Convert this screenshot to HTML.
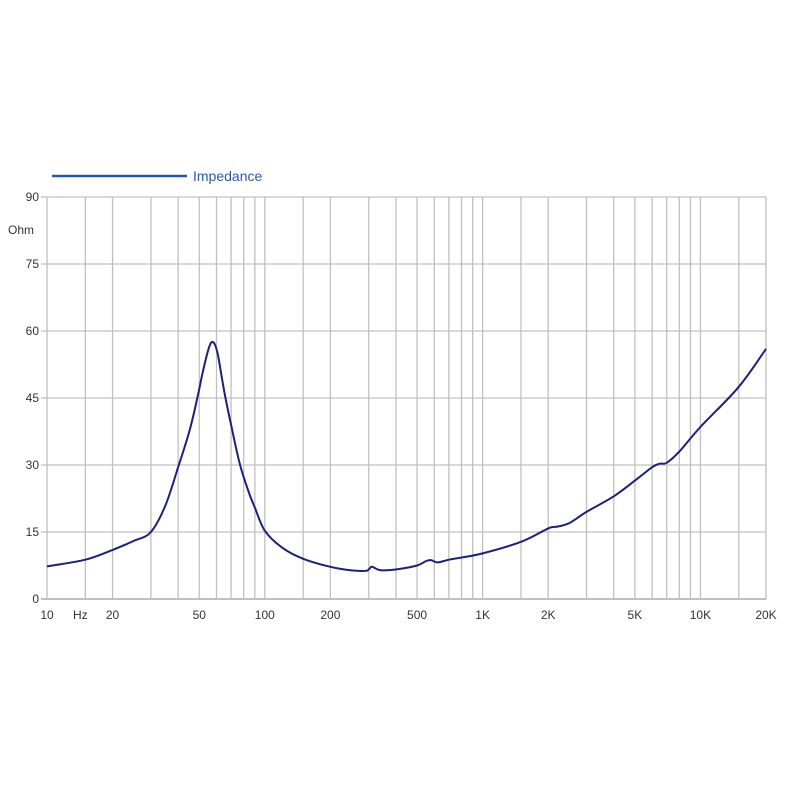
<!DOCTYPE html>
<html><head><meta charset="utf-8"><style>
body{margin:0;background:#fff;font-family:"Liberation Sans",sans-serif}
svg text{font-family:"Liberation Sans",sans-serif}
</style></head><body>
<svg width="800" height="800" id="c">
<g id="grid"></g>
<g id="ticks"></g>
<line x1="52" y1="176" x2="187" y2="176" stroke="#2b55a0" stroke-width="2.5"/>
<text x="193" y="181" font-size="14" fill="#2b5aa8">Impedance</text>
<text x="8" y="234" font-size="12" fill="#333">Ohm</text>
<text x="73" y="619" font-size="12" fill="#333">Hz</text>
<path id="curve" fill="none" stroke="#1c217a" stroke-width="2" stroke-linejoin="round"/>
</svg>
<script>
const freqs=[10,15,20,25,30,35,40,45,49,52,55,57,59,61,63,66,70,77,85,90,100,120,150,200,250,290,300,310,330,350,400,500,550,580,620,700,800,1000,1500,2000,2200,2500,3000,4000,5000,6000,6500,7000,8000,10000,15000,20000];
const ohms=[7.3,8.8,11,13,15,21,29.5,37.5,45,51,55.8,57.5,57,54.5,50.5,45,39,30,23.5,20.5,15.3,11.5,9,7.2,6.4,6.3,6.6,7.2,6.6,6.4,6.6,7.5,8.5,8.7,8.2,8.8,9.3,10.2,12.8,15.8,16.2,17,19.5,23,26.5,29.5,30.3,30.5,33,38.5,47.5,56];
const gridFreqs=[10,15,20,30,40,50,60,70,80,90,100,150,200,300,400,500,600,700,800,900,1000,1500,2000,3000,4000,5000,6000,7000,8000,9000,10000,15000,20000];
const xTicks=[10,20,50,100,200,500,1000,2000,5000,10000,20000];
const xTickLabels=["10","20","50","100","200","500","1K","2K","5K","10K","20K"];
const yTicks=[0,15,30,45,60,75,90];
const X0=47,X1=766,Y0=599,Y1=197;
const x=f=>X0+(Math.log10(f)-1)/Math.log10(2000)*(X1-X0);
const y=v=>Y0-v/90*(Y0-Y1);
const NS="http://www.w3.org/2000/svg";
const g=document.getElementById('grid'),t=document.getElementById('ticks');
function mk(p,tag,a){const e=document.createElementNS(NS,tag);for(const k in a)e.setAttribute(k,a[k]);p.appendChild(e);return e;}
gridFreqs.forEach(f=>{
 const l=mk(g,'line',{x1:x(f),x2:x(f),y1:Y1,y2:Y0,stroke:'#c0c0c0','stroke-width':1.3});
 
 
});
yTicks.forEach(v=>{
 const l=mk(g,'line',{x1:X0-6,x2:X1,y1:y(v),y2:y(v),stroke:'#c0c0c0','stroke-width':v===0?2:1.3});
 
 
 const tx=mk(t,'text',{x:X0-8,y:y(v)+4,'text-anchor':'end','font-size':12,fill:'#333'});
 tx.textContent=v;
 
 
});
xTicks.forEach((f,i)=>{
 const tx=mk(t,'text',{x:x(f),y:619,'text-anchor':'middle','font-size':12,fill:'#333'});
 tx.textContent=xTickLabels[i];
 
 
});
const P=freqs.map((f,i)=>[x(f),y(ohms[i])]);
let d='M'+P[0][0].toFixed(1)+','+P[0][1].toFixed(1);
for(let i=0;i<P.length-1;i++){
 const p0=P[Math.max(0,i-1)],p1=P[i],p2=P[i+1],p3=P[Math.min(P.length-1,i+2)];
 const c1=[p1[0]+(p2[0]-p0[0])/6,p1[1]+(p2[1]-p0[1])/6];
 const c2=[p2[0]-(p3[0]-p1[0])/6,p2[1]-(p3[1]-p1[1])/6];
 d+='C'+c1[0].toFixed(1)+','+c1[1].toFixed(1)+' '+c2[0].toFixed(1)+','+c2[1].toFixed(1)+' '+p2[0].toFixed(1)+','+p2[1].toFixed(1);
}
document.getElementById('curve').setAttribute('d',d);
</script>
</body></html>
